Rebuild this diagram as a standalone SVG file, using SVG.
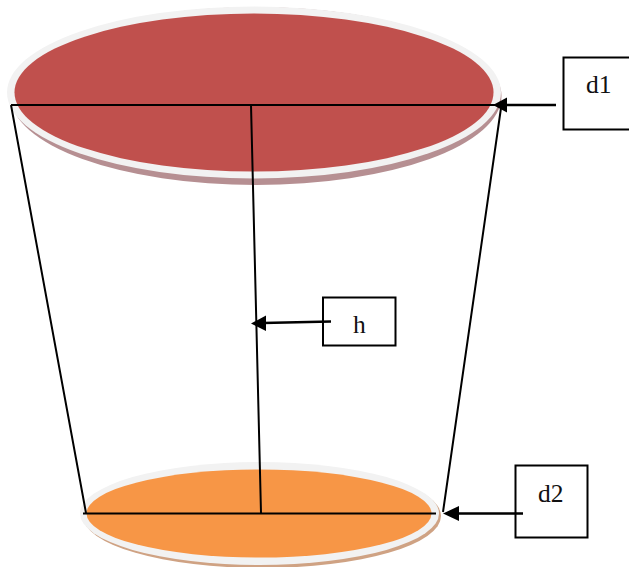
<svg xmlns="http://www.w3.org/2000/svg" width="629" height="567" viewBox="0 0 629 567">
<style>
.l{fill:none;stroke:#000;stroke-width:2}
.a{fill:none;stroke:#000;stroke-width:2.500}
.h{fill:#000}
.b{fill:#fff;stroke:#000;stroke-width:2}
.t{font-family:"Liberation Serif","Times New Roman",serif;font-size:25.500px;fill:#111}
.g{fill:#f2f2f2}
</style>
<g id="top-disc">
<ellipse cx="256" cy="96" rx="245.500" ry="89" fill="#b68f92"/>
<ellipse cx="254" cy="92.500" rx="247" ry="86" class="g"/>
<ellipse cx="254" cy="92.500" rx="239.500" ry="79" fill="#c0504d"/>
</g>
<g id="bottom-disc">
<ellipse cx="262" cy="516" rx="179" ry="52" fill="#cfa283"/>
<ellipse cx="259.500" cy="513.500" rx="179.500" ry="51.500" class="g"/>
<ellipse cx="259" cy="513.500" rx="172.500" ry="44" fill="#f79646"/>
</g>
<g id="d1">
<path class="b" d="M631 57.500H563.500V129.500H631"/>
<text class="t" x="586" y="93">d1</text>
</g>
<g id="h">
<rect class="b" x="323" y="297.500" width="72.500" height="48"/>
<text class="t" x="353" y="333">h</text>
</g>
<g id="d2">
<rect class="b" x="515.500" y="465.500" width="72" height="72"/>
<text class="t" x="538" y="502">d2</text>
</g>
<g id="connectors">
<path class="l" d="M11 105H495M11 105L86 513M501 108L443 512M251 105L261 513M83 513.500H436"/>
<path class="a" d="M556 105H505M331 321.500L263 323M523 513.500H455"/>
<path class="h" d="M493 105L507 97.500V112.500ZM251 323.500L266 315.500V331ZM443 513.500L459 506V521Z"/>
</g>
</svg>
